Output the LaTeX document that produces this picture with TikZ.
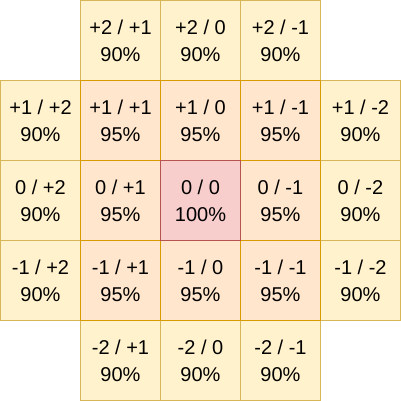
\documentclass[tikz,border=0pt]{standalone}
\usepackage{fontspec}
\setmainfont{Liberation Sans}
\definecolor{yfill}{HTML}{FFF2CC}
\definecolor{ydraw}{HTML}{D6B656}
\definecolor{ofill}{HTML}{FFE6CC}
\definecolor{odraw}{HTML}{D79B00}
\definecolor{pfill}{HTML}{F8CECC}
\definecolor{pdraw}{HTML}{B85450}
\begin{document}
\begin{tikzpicture}[x=1pt,y=-1pt,
  cell/.style={rectangle,minimum width=80pt,minimum height=80pt,inner sep=0pt,align=center,line width=1pt,font=\fontsize{20}{27}\selectfont},
  outer/.style={cell,fill=yfill,draw=ydraw},
  inner/.style={cell,fill=ofill,draw=odraw},
  center/.style={cell,fill=pfill,draw=pdraw}]
\useasboundingbox (0,0) rectangle (401,401);
% outer ring
\node[outer] (a01) at (120.5,40.5) {+2 / +1\\90\%};
\node[outer] (a02) at (200.5,40.5) {+2 / 0\\90\%};
\node[outer] (a03) at (280.5,40.5) {+2 / -1\\90\%};
\node[outer] (a10) at (40.5,120.5) {+1 / +2\\90\%};
\node[outer] (a14) at (360.5,120.5) {+1 / -2\\90\%};
\node[outer] (a20) at (40.5,200.5) {0 / +2\\90\%};
\node[outer] (a24) at (360.5,200.5) {0 / -2\\90\%};
\node[outer] (a30) at (40.5,280.5) {-1 / +2\\90\%};
\node[outer] (a34) at (360.5,280.5) {-1 / -2\\90\%};
\node[outer] (a41) at (120.5,360.5) {-2 / +1\\90\%};
\node[outer] (a42) at (200.5,360.5) {-2 / 0\\90\%};
\node[outer] (a43) at (280.5,360.5) {-2 / -1\\90\%};
% inner ring
\node[inner] (a11) at (120.5,120.5) {+1 / +1\\95\%};
\node[inner] (a12) at (200.5,120.5) {+1 / 0\\95\%};
\node[inner] (a13) at (280.5,120.5) {+1 / -1\\95\%};
\node[inner] (a21) at (120.5,200.5) {0 / +1\\95\%};
\node[inner] (a23) at (280.5,200.5) {0 / -1\\95\%};
\node[inner] (a31) at (120.5,280.5) {-1 / +1\\95\%};
\node[inner] (a32) at (200.5,280.5) {-1 / 0\\95\%};
\node[inner] (a33) at (280.5,280.5) {-1 / -1\\95\%};
% center
\node[center] (a22) at (200.5,200.5) {0 / 0\\100\%};
\end{tikzpicture}
\end{document}
